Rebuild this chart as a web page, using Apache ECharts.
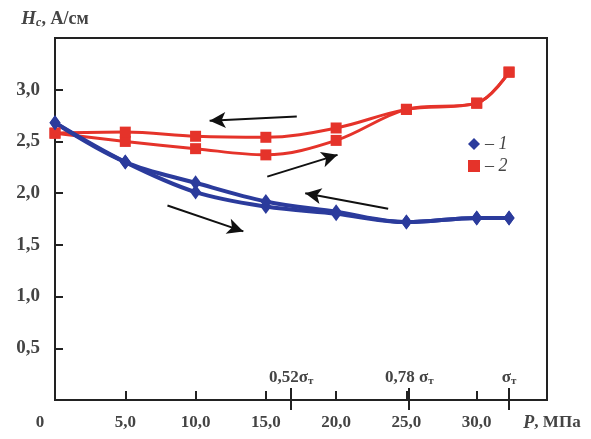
<!DOCTYPE html>
<html>
<head>
<meta charset="utf-8">
<script src="https://cdn.jsdelivr.net/npm/echarts@6/dist/echarts.min.js"></script>
<style>
  html, body { margin: 0; padding: 0; background: #fff; }
  #chart { width: 591px; height: 439px; }
</style>
</head>
<body>
<div id="chart"></div>
<script>
// давление P, МПа (последняя точка — предел текучести σт)
var pLoad = [0, 5, 10, 15, 20, 25, 30, 32.3];
var pUnload = [32.3, 30, 25, 20, 15, 10, 5, 0];

// кривая 1 (синяя)
var h1Load = [2.68, 2.30, 2.01, 1.87, 1.80, 1.72, 1.76, 1.76];
var h1Unload = [1.76, 1.76, 1.72, 1.82, 1.92, 2.10, 2.30, 2.68];

// кривая 2 (красная)
var h2Load = [2.58, 2.50, 2.43, 2.37, 2.51, 2.81, 2.87, 3.17];
var h2Unload = [3.17, 2.87, 2.81, 2.63, 2.54, 2.55, 2.59, 2.58];

// метки долей σт на оси P
var sigmaTicks = [16.8, 25.2, 32.3];
var sigmaLabels = ['0,52σ{s|т}', '0,78 σ{s|т}', 'σ{s|т}'];

// стрелки направления (от, до) в координатах графика
var arrowFrom = [[17.2, 2.74], [15.1, 2.16], [23.7, 1.85], [8.0, 1.88]];
var arrowTo = [[11.0, 2.70], [20.1, 2.37], [17.8, 2.00], [13.4, 1.63]];

var RED = '#e5332a';
var BLUE = '#2b3b9c';
var TXT = '#444';
var FONT = 'Liberation Serif';

function zip(xs, ys) {
    var out = [];
    for (var i = 0; i < xs.length; i++) out.push([xs[i], ys[i]]);
    return out;
}

function comma(v) {
    return v.toFixed(1).replace('.', ',');
}

var arrows = [];
for (var i = 0; i < arrowFrom.length; i++) {
    arrows.push([{coord: arrowFrom[i]}, {coord: arrowTo[i]}]);
}

var chart = echarts.init(document.getElementById('chart'));

var xBase = {
    type: 'value', min: 0, max: 35, position: 'bottom'
};

var option = {
    animation: false,
    backgroundColor: '#fff',
    grid: {
        left: 55, right: 44, top: 38, bottom: 39,
        show: true, borderColor: '#222', borderWidth: 2
    },
    legend: {
        data: [
            {name: '1', icon: 'diamond', itemStyle: {color: BLUE}},
            {name: '2', icon: 'rect', itemStyle: {color: RED}}
        ],
        orient: 'vertical',
        left: 463, top: 130,
        itemWidth: 12, itemHeight: 12, itemGap: 4,
        formatter: function (name) { return '– ' + name; },
        textStyle: {fontFamily: FONT, fontStyle: 'italic', fontSize: 18, color: TXT}
    },
    xAxis: [
        Object.assign({}, xBase, {
            interval: 5,
            splitLine: {show: false},
            axisLine: {lineStyle: {color: '#222', width: 2}},
            axisTick: {inside: true, length: 9, lineStyle: {color: '#222', width: 2}},
            axisLabel: {
                showMaxLabel: true, showMinLabel: true, margin: 14,
                fontFamily: FONT, fontSize: 17, fontWeight: 'bold', color: TXT,
                formatter: function (v) {
                    if (v === 0) return '{o|0}';
                    if (v === 35) return '{p|P}, МПа';
                    return comma(v);
                },
                rich: {
                    o: {fontFamily: FONT, fontSize: 17, fontWeight: 'bold', color: TXT, padding: [0, 30, 0, 0]},
                    p: {fontFamily: FONT, fontSize: 18, fontWeight: 'bold', fontStyle: 'italic', color: TXT, padding: [0, 0, 0, 10]}
                }
            }
        }),
        Object.assign({}, xBase, {
            axisLine: {show: false},
            splitLine: {show: false},
            axisTick: {inside: true, length: 12, customValues: sigmaTicks, lineStyle: {color: '#222', width: 2}},
            axisLabel: {
                inside: true, margin: 13, customValues: sigmaTicks,
                fontFamily: FONT, fontSize: 17, fontWeight: 'bold', color: TXT,
                formatter: function (v) {
                    var k = sigmaTicks.indexOf(v);
                    return k < 0 ? '' : sigmaLabels[k];
                },
                rich: {
                    s: {fontFamily: FONT, fontSize: 11, fontWeight: 'bold', color: TXT, verticalAlign: 'bottom', padding: [8, 0, 0, 0]}
                }
            }
        }),
        Object.assign({}, xBase, {
            axisLine: {show: false},
            splitLine: {show: false},
            axisTick: {inside: false, length: 10, customValues: sigmaTicks, lineStyle: {color: '#222', width: 2}},
            axisLabel: {show: false}
        })
    ],
    yAxis: {
        type: 'value', min: 0, max: 3.5, interval: 0.5,
        name: '{h|H}{c|c}, А/см',
        nameLocation: 'end', nameGap: 9,
        nameTextStyle: {
            fontFamily: FONT, fontSize: 18, fontWeight: 'bold', color: TXT,
            rich: {
                h: {fontFamily: FONT, fontSize: 19, fontWeight: 'bold', fontStyle: 'italic', color: TXT},
                c: {fontFamily: FONT, fontSize: 12, fontWeight: 'bold', fontStyle: 'italic', color: TXT, verticalAlign: 'bottom', padding: [8, 0, 0, 0]}
            }
        },
        splitLine: {show: false},
        axisLine: {show: true, lineStyle: {color: '#222', width: 2}},
        axisTick: {inside: true, length: 8, lineStyle: {color: '#222', width: 2}},
        axisLabel: {
            margin: 15,
            fontFamily: FONT, fontSize: 19, fontWeight: 'bold', color: TXT,
            formatter: function (v) {
                if (v === 0 || v === 3.5) return '';
                return comma(v);
            }
        }
    },
    series: [
        {
            name: '2', type: 'line', smooth: 0.35,
            data: zip(pLoad, h2Load),
            symbol: 'rect', symbolSize: 11,
            lineStyle: {color: RED, width: 3}, itemStyle: {color: RED}
        },
        {
            name: '2', type: 'line', smooth: 0.35,
            data: zip(pUnload, h2Unload),
            symbol: 'rect', symbolSize: 11,
            lineStyle: {color: RED, width: 3}, itemStyle: {color: RED}
        },
        {
            name: '1', type: 'line', smooth: 0.35,
            data: zip(pLoad, h1Load),
            symbol: 'diamond', symbolSize: [11, 15],
            lineStyle: {color: BLUE, width: 4}, itemStyle: {color: BLUE}
        },
        {
            name: '1', type: 'line', smooth: 0.35,
            data: zip(pUnload, h1Unload),
            symbol: 'diamond', symbolSize: [11, 15],
            lineStyle: {color: BLUE, width: 4}, itemStyle: {color: BLUE},
            markLine: {
                silent: true, animation: false,
                symbol: ['none', 'arrow'], symbolSize: [12, 16],
                label: {show: false},
                lineStyle: {color: '#111', width: 2, type: 'solid'},
                emphasis: {disabled: true},
                data: arrows
            }
        }
    ]
};

chart.setOption(option);
</script>
</body>
</html>
